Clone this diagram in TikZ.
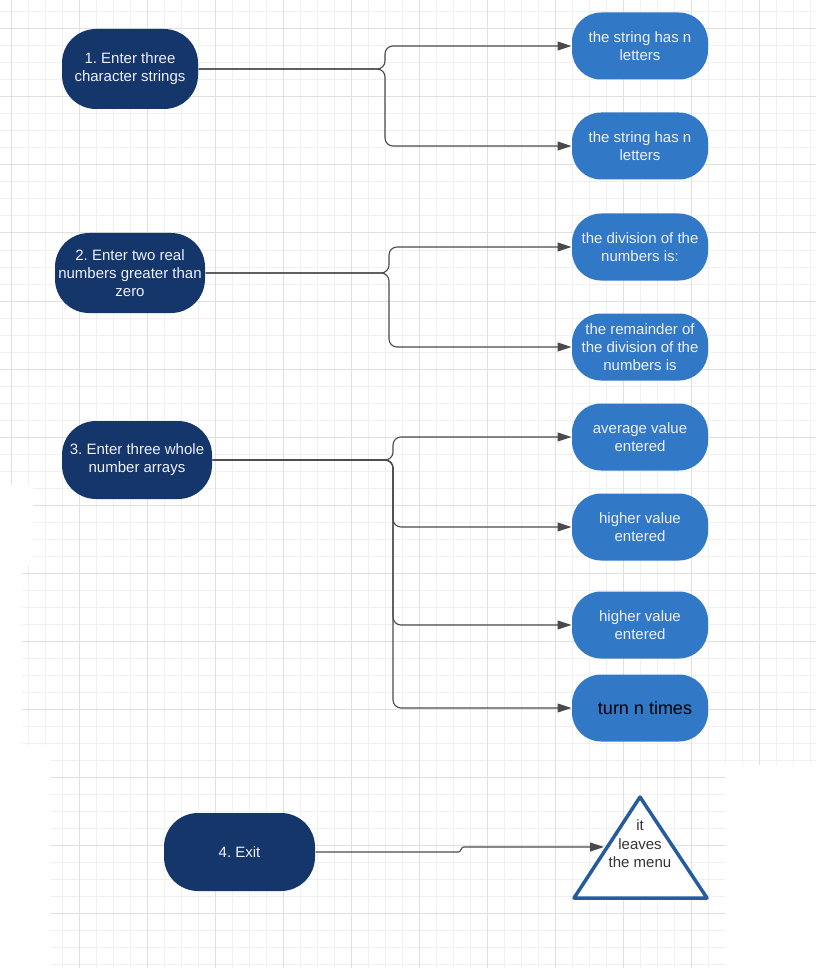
\documentclass[tikz,border=0pt]{standalone}
\usepackage{fontspec}
\setmainfont{Liberation Sans}
\usetikzlibrary{arrows.meta}
\definecolor{navy}{HTML}{14366A}
\definecolor{sky}{HTML}{3178C6}
\definecolor{wire}{HTML}{4A4A4A}
\definecolor{rim}{HTML}{265C9E}
\definecolor{gridminor}{HTML}{F0F0F0}
\definecolor{gridmajor}{HTML}{E0E0E0}
\frenchspacing

\begin{document}
\begin{tikzpicture}[x=1pt, y=-1pt,
                    line width=1pt,
                    >={Triangle[length=14pt,width=9pt]},
                    ]
    \tikzstyle{task}=[rectangle, rounded corners=34pt, fill=navy, text=white!94!blue, align=center, font=\fontsize{15}{18}\selectfont, minimum width=136pt, minimum height=80pt, inner sep=0pt]
    \tikzstyle{answer}=[task, rounded corners=29pt, fill=sky, minimum width=136pt, minimum height=67pt]
    \tikzstyle{link}=[draw=wire, line width=1.1pt, rounded corners=8pt, ->]
    \tikzstyle{minorline}=[gridminor, line width=1pt]
    \tikzstyle{majorline}=[gridmajor, line width=1pt]

    \useasboundingbox (0,0) rectangle (816,968);
    \foreach \gx in {11,28,...,816} \draw[minorline] (\gx,0) -- (\gx,968);
    \foreach \gy in {12,29,...,968} \draw[minorline] (0,\gy) -- (816,\gy);
    \foreach \gx in {11,79,...,816} \draw[majorline] (\gx,0) -- (\gx,968);
    \foreach \gy in {29,97,...,968} \draw[majorline] (0,\gy) -- (816,\gy);
    \fill[white] (0,485) rectangle (33,565);
    \fill[white] (0,565) rectangle (22,745);
    \fill[white] (0,745) rectangle (50,968);
    \fill[white] (725,765) rectangle (816,968);

    \node[task] (strings) at (130,69) {1. Enter three\\character strings};
    \node[answer] (lenA) at (640,46) {the string has n\\letters};
    \node[answer] (lenB) at (640,146) {the string has n\\letters};

    \node[task, minimum width=150pt] (reals) at (130,273) {2. Enter two real\\numbers greater than\\zero};
    \node[answer] (quot) at (640,247) {the division of the\\numbers is:};
    \node[answer] (rest) at (640,347) {the remainder of\\the division of the\\numbers is};

    \node[task, minimum width=150pt, minimum height=78pt] (arrays) at (137,460) {3. Enter three whole\\number arrays};
    \node[answer] (mean) at (640,437) {average value\\entered};
    \node[answer] (highA) at (640,527) {higher value\\entered};
    \node[answer] (highB) at (640,625) {higher value\\entered};
    \node[answer, text=black, font=\fontsize{18}{20}\selectfont] (turns) at (640,708) {\hspace*{10pt}turn n times};

    \node[task, minimum width=151pt, minimum height=78pt] (exit) at (239.5,852) {4. Exit};
    \draw[rim, fill=white, line width=3.5pt, line join=round] (640,797) -- (707,898) -- (574,898) -- cycle;
    \node[align=center, text=black!80, font=\fontsize{15}{18.5}\selectfont] (leave) at (640,844) {it\\leaves\\the menu};
    \coordinate (leavein) at (604,847);

    \coordinate (forkA) at (385,69);
    \coordinate (forkB) at (389,273);
    \coordinate (forkC) at (393,460);

    \draw[link] (strings.east) -- (forkA) |- (lenA.west);
    \draw[link] (strings.east) -- (forkA) |- (lenB.west);
    \draw[link] (reals.east) -- (forkB) |- (quot.west);
    \draw[link] (reals.east) -- (forkB) |- (rest.west);
    \draw[link] (arrays.east) -- (forkC) |- (mean.west);
    \draw[link] (arrays.east) -- (forkC) |- (highA.west);
    \draw[link] (arrays.east) -- (forkC) |- (highB.west);
    \draw[link] (arrays.east) -- (forkC) |- (turns.west);
    \draw[link, rounded corners=1pt] (exit.east) -- ++(144,0) -- ++(3,-5) -- (leavein);
\end{tikzpicture}
\end{document}
